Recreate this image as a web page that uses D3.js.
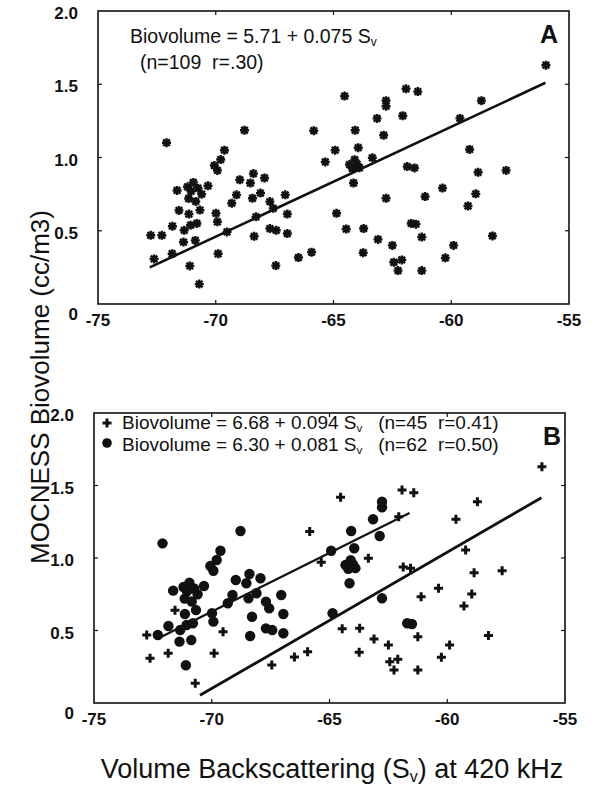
<!DOCTYPE html>
<html><head><meta charset="utf-8">
<script src="https://cdn.jsdelivr.net/npm/d3@7"></script>
<style>body{margin:0;background:#fff}svg{display:block}text{font-family:"Liberation Sans",Arial,Helvetica,sans-serif;fill:#111;white-space:pre}</style>
</head><body><svg id="c" width="610" height="788"></svg>
<script>
// Data: volume backscattering Sv (dB) and MOCNESS biovolume (cc/m3)
const crossPts = [[-55.98,1.63],[-61.92,1.469],[-61.42,1.45],[-64.53,1.419],[-58.72,1.388],[-62.06,1.285],[-59.63,1.267],[-65.84,1.183],[-59.22,1.055],[-63.35,0.998],[-65.35,0.970],[-61.87,0.938],[-61.56,0.929],[-58.86,0.899],[-57.67,0.912],[-60.37,0.791],[-61.11,0.733],[-58.96,0.752],[-59.29,0.669],[-71.56,0.639],[-72.76,0.469],[-69.52,0.492],[-64.46,0.512],[-63.72,0.515],[-61.25,0.457],[-58.25,0.465],[-63.11,0.441],[-62.50,0.40],[-59.90,0.40],[-72.62,0.308],[-71.85,0.343],[-69.90,0.343],[-66.49,0.317],[-65.93,0.354],[-63.74,0.35],[-60.25,0.315],[-62.44,0.285],[-62.10,0.301],[-62.26,0.228],[-61.25,0.228],[-67.45,0.262],[-70.70,0.136]];
const circlePts = [[-72.09,1.101],[-68.78,1.186],[-69.63,1.050],[-69.79,0.986],[-70.06,0.945],[-69.93,0.912],[-71.64,0.775],[-71.2,0.80],[-70.95,0.83],[-71.05,0.77],[-70.75,0.79],[-71.15,0.72],[-70.85,0.70],[-70.6,0.75],[-70.33,0.807],[-68.98,0.848],[-68.40,0.89],[-67.93,0.86],[-68.53,0.826],[-69.12,0.745],[-69.32,0.688],[-68.44,0.722],[-68.10,0.757],[-67.70,0.699],[-67.56,0.653],[-67.05,0.745],[-66.96,0.614],[-68.29,0.595],[-71.14,0.614],[-70.67,0.641],[-69.99,0.619],[-69.93,0.561],[-71.84,0.531],[-72.29,0.469],[-71.34,0.503],[-71.07,0.538],[-70.80,0.55],[-71.37,0.423],[-70.87,0.434],[-67.70,0.515],[-67.43,0.503],[-68.37,0.462],[-66.96,0.481],[-71.10,0.26],[-64.93,1.050],[-64.87,0.619],[-62.77,1.388],[-62.77,1.350],[-63.15,1.267],[-62.87,1.152],[-64.08,1.186],[-63.95,1.067],[-64.32,0.952],[-64.0,0.955],[-64.2,0.925],[-63.9,0.93],[-64.1,0.985],[-64.15,0.826],[-62.77,0.722],[-61.7,0.55],[-61.5,0.545]];
const allPts = crossPts.concat(circlePts);
// regressions: [intercept, slope, xStart, xEnd]
const fitA = [5.71, 0.075, -72.8, -56.0];
const fitCross = [6.68, 0.094, -70.5, -56.0];
const fitCircle = [6.30, 0.081, -72.2, -61.6];
const xTicks = [-75, -70, -65, -60, -55];
const yTicks = [0, 0.5, 1.0, 1.5, 2.0];
const yTickLabels = ["0", "0.5", "1.0", "1.5", "2.0"];

const svg = d3.select("#c");
svg.append("rect").attr("width",610).attr("height",788).attr("fill","#fff");

function panel(x, y, letter, letterDx){
  const g = svg.append("g");
  const [x0,x1] = x.range(), [y0,y1] = y.range();
  g.append("rect").attr("x",x0).attr("y",y1).attr("width",x1-x0).attr("height",y0-y1)
    .attr("fill","none").attr("stroke","#111").attr("stroke-width",1.6);
  xTicks.slice(1,-1).forEach(t=>{
    g.append("line").attr("x1",x(t)).attr("x2",x(t)).attr("y1",y0).attr("y2",y0-4).attr("stroke","#111").attr("stroke-width",1.2);
    g.append("line").attr("x1",x(t)).attr("x2",x(t)).attr("y1",y1).attr("y2",y1+4).attr("stroke","#111").attr("stroke-width",1.2);
  });
  yTicks.slice(1,-1).forEach(t=>{
    g.append("line").attr("x1",x0).attr("x2",x0+4).attr("y1",y(t)).attr("y2",y(t)).attr("stroke","#111").attr("stroke-width",1.2);
    g.append("line").attr("x1",x1).attr("x2",x1-4).attr("y1",y(t)).attr("y2",y(t)).attr("stroke","#111").attr("stroke-width",1.2);
  });
  xTicks.forEach(t=>{
    g.append("text").attr("x",x(t)).attr("y",y0+22).attr("text-anchor","middle")
      .attr("font-size",17).attr("font-weight","bold").text(t);
  });
  yTicks.forEach((t,i)=>{
    g.append("text").attr("x",x0-20).attr("y",t===0 ? y(t)+16 : y(t)+8).attr("text-anchor","end")
      .attr("font-size",17).attr("font-weight","bold").text(yTickLabels[i]);
  });
  g.append("text").attr("x",x1-letterDx).attr("y",y1+32).attr("text-anchor","end")
    .attr("font-size",25).attr("font-weight","bold").text(letter);
  return g;
}

function fitLine(g, x, y, f, w){
  const xs = [f[2], f[3]];
  g.append("path").attr("d", d3.line().x(d=>x(d)).y(d=>y(f[0]+f[1]*d))(xs))
    .attr("stroke","#111").attr("stroke-width",w).attr("fill","none");
}

function eqText(g, px, py, pre, post, size){
  const t = g.append("text").attr("x",px).attr("y",py).attr("font-size",size);
  t.append("tspan").text(pre);
  t.append("tspan").attr("font-size",size*0.62).attr("dy",3).text("v");
  if(post) t.append("tspan").attr("dy",-3).text(post);
}

// Panel A
const xA = d3.scaleLinear().domain([-75,-55]).range([98,569]);
const yA = d3.scaleLinear().domain([0,2]).range([304,11]);
const gA = panel(xA, yA, "A", 11);
fitLine(gA, xA, yA, fitA, 2.6);
const star = "M-4.5,0H4.5M0,-4.5V4.5M-3.3,-3.3L3.3,3.3M-3.3,3.3L3.3,-3.3";
gA.selectAll(".s").data(allPts).join("path")
  .attr("transform",d=>`translate(${xA(d[0])},${yA(d[1])})`)
  .attr("d",star).attr("stroke","#111").attr("stroke-width",2.4).attr("fill","none");
eqText(gA, 130, 43, "Biovolume = 5.71 + 0.075 S", null, 19.5);
gA.append("text").attr("x",140).attr("y",69).attr("font-size",19.5).text("(n=109  r=.30)");

// Panel B
const xB = d3.scaleLinear().domain([-75,-55]).range([94,565]);
const yB = d3.scaleLinear().domain([0,2]).range([703,413]);
const gB = panel(xB, yB, "B", 4);
fitLine(gB, xB, yB, fitCross, 2.8);
fitLine(gB, xB, yB, fitCircle, 2.2);
const plus = "M-4.5,0H4.5M0,-4.5V4.5";
gB.selectAll(".p").data(crossPts).join("path")
  .attr("transform",d=>`translate(${xB(d[0])},${yB(d[1])})`)
  .attr("d",plus).attr("stroke","#111").attr("stroke-width",3).attr("fill","none");
gB.selectAll(".o").data(circlePts).join("circle")
  .attr("cx",d=>xB(d[0])).attr("cy",d=>yB(d[1])).attr("r",5.2).attr("fill","#111");
// legend
gB.append("path").attr("transform","translate(107,423)").attr("d",plus).attr("stroke","#111").attr("stroke-width",3);
gB.append("circle").attr("cx",107).attr("cy",443).attr("r",4.8).attr("fill","#111");
eqText(gB, 122, 429, "Biovolume = 6.68 + 0.094 S", "   (n=45  r=0.41)", 19);
eqText(gB, 122, 450.5, "Biovolume = 6.30 + 0.081 S", "   (n=62  r=0.50)", 19);

// Axis titles
svg.append("text").attr("transform","translate(49,387) rotate(-90)").attr("text-anchor","middle")
  .attr("font-size",26).text("MOCNESS Biovolume (cc/m3)");
const xt = svg.append("text").attr("x",332).attr("y",778).attr("text-anchor","middle").attr("font-size",27);
xt.append("tspan").text("Volume Backscattering (S");
xt.append("tspan").attr("font-size",16).attr("dy",4).text("v");
xt.append("tspan").attr("dy",-4).text(") at 420 kHz");
</script></body></html>
